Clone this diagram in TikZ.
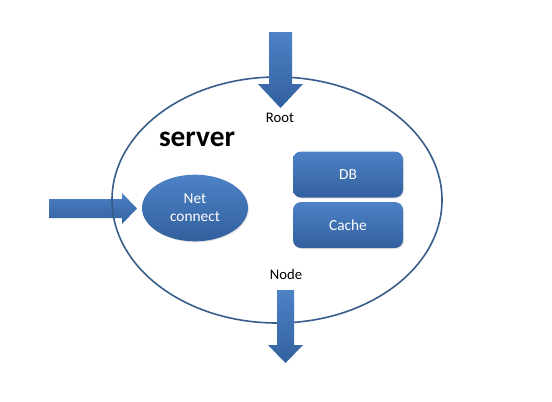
\documentclass[tikz,border=0pt]{standalone}
\usepackage{fontspec}
\setmainfont{Carlito}
\usetikzlibrary{shapes,shadows,positioning,calc}
\definecolor{boxtop}{RGB}{77,130,198}
\definecolor{boxbot}{RGB}{50,96,158}
\definecolor{rim}{RGB}{56,93,138}

\begin{document}
\begin{tikzpicture}[
    x=0.75pt, y=-0.75pt,
    box/.style={rectangle, rounded corners=6pt, top color=boxtop, bottom color=boxbot, text=white, minimum width=82.5pt, minimum height=34.5pt, font=\fontsize{11.5}{13}\selectfont, drop shadow={opacity=0.2, shadow xshift=0.8pt, shadow yshift=-0.8pt}},
    blob/.style={ellipse, top color=boxtop, bottom color=boxbot, text=white, minimum width=79.5pt, minimum height=50pt, inner sep=0pt, align=center, font=\fontsize{11.5}{13.5}\selectfont, drop shadow={opacity=0.2, shadow xshift=0.8pt, shadow yshift=-0.8pt}},
    tag/.style={font=\fontsize{11}{13}\selectfont},
    fatarrow/.style={top color=boxtop, bottom color=boxbot}
]
    \useasboundingbox (0,0) rectangle (552,401);

    % incoming arrow on the left
    \path[fatarrow] (49,199) -- (122,199) -- (122,193) -- (137,208.5) -- (122,224) -- (122,218) -- (49,218) -- cycle;

    \node[ellipse, draw=rim, line width=1.2pt, minimum width=247.5pt, minimum height=184.5pt] (server) at (277,200) {};

    % arrows in and out at top and bottom
    \path[fatarrow] (269,32) -- (292,32) -- (292,84) -- (303,84) -- (280.5,108) -- (258,84) -- (269,84) -- cycle;
    \path[fatarrow] (277,290) -- (294,290) -- (294,345) -- (303,345) -- (285.5,363) -- (268,345) -- (277,345) -- cycle;

    \node[font=\fontsize{22}{26}\selectfont\bfseries] (title) at (197,139) {server};
    \node[tag] (root) at (280,118) {Root};
    \node[tag] (leaf) at (286,274) {Node};

    \node[blob] (net) at (195,208) {Net\\connect};
    \node[box] (db) at (348,174.5) {DB};
    \node[box] (cache) at (348,225) {Cache};
\end{tikzpicture}
\end{document}
